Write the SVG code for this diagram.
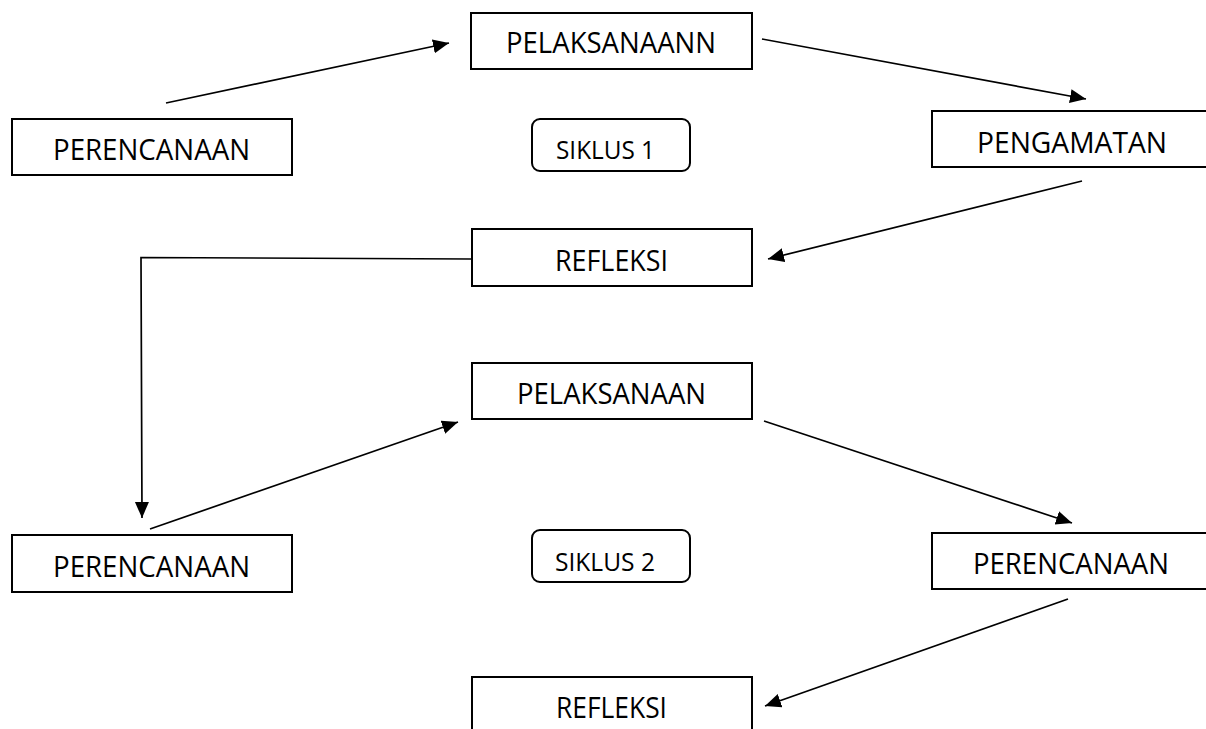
<svg xmlns="http://www.w3.org/2000/svg" width="1206" height="729" viewBox="0 0 1206 729">
<style>
.box{fill:#fff;stroke:#000;stroke-width:2}
.lbl{font-family:"Open Sans","Liberation Sans",sans-serif;font-size:29px;fill:#000}
.sm{font-family:"Open Sans","Liberation Sans",sans-serif;font-size:25px;fill:#000}
.ca{fill:none;stroke:#000;stroke-width:1.7;marker-end:url(#ah)}
</style>
<defs>
<marker id="ah" markerUnits="userSpaceOnUse" markerWidth="18" markerHeight="16" refX="16" refY="7" orient="auto">
<path d="M0,0 L16,7 L0,14 z" fill="#000"/>
</marker>
</defs>
<rect width="1206" height="729" fill="#fff"/>
<g id="connectors">
<line class="ca" x1="166" y1="103" x2="449" y2="43"/>
<line class="ca" x1="762" y1="39" x2="1086" y2="99"/>
<line class="ca" x1="1082" y1="181" x2="768" y2="259"/>
<polyline class="ca" points="471,259 141,257.5 142,518"/>
<line class="ca" x1="150" y1="529" x2="458" y2="422"/>
<line class="ca" x1="764" y1="421" x2="1072" y2="523"/>
<line class="ca" x1="1068" y1="599" x2="765" y2="706"/>
</g>
<g id="perencanaan1">
<rect class="box" x="12" y="119" width="280" height="56"/>
<text class="lbl" x="53" y="160" textLength="197" lengthAdjust="spacingAndGlyphs">PERENCANAAN</text>
</g>
<g id="pelaksanaan1">
<rect class="box" x="471" y="13" width="281" height="56"/>
<text class="lbl" x="506" y="53" textLength="210" lengthAdjust="spacingAndGlyphs">PELAKSANAANN</text>
</g>
<g id="pengamatan">
<rect class="box" x="932" y="111" width="290" height="56"/>
<text class="lbl" x="977" y="153" textLength="190" lengthAdjust="spacingAndGlyphs">PENGAMATAN</text>
</g>
<g id="siklus1">
<rect class="box" x="532" y="119" width="158" height="52" rx="8"/>
<text class="sm" x="556" y="159" textLength="99" lengthAdjust="spacingAndGlyphs">SIKLUS 1</text>
</g>
<g id="refleksi1">
<rect class="box" x="472" y="229" width="280" height="57"/>
<text class="lbl" x="555" y="271" textLength="113" lengthAdjust="spacingAndGlyphs">REFLEKSI</text>
</g>
<g id="pelaksanaan2">
<rect class="box" x="472" y="363" width="280" height="56"/>
<text class="lbl" x="517" y="404" textLength="189" lengthAdjust="spacingAndGlyphs">PELAKSANAAN</text>
</g>
<g id="perencanaan2">
<rect class="box" x="12" y="535" width="280" height="57"/>
<text class="lbl" x="53" y="577" textLength="197" lengthAdjust="spacingAndGlyphs">PERENCANAAN</text>
</g>
<g id="siklus2">
<rect class="box" x="532" y="530" width="158" height="52" rx="8"/>
<text class="sm" x="555" y="571" textLength="100" lengthAdjust="spacingAndGlyphs">SIKLUS 2</text>
</g>
<g id="perencanaan3">
<rect class="box" x="932" y="533" width="290" height="56"/>
<text class="lbl" x="973" y="574" textLength="196" lengthAdjust="spacingAndGlyphs">PERENCANAAN</text>
</g>
<g id="refleksi2">
<rect class="box" x="472" y="677" width="280" height="70"/>
<text class="lbl" x="556" y="718" textLength="111" lengthAdjust="spacingAndGlyphs">REFLEKSI</text>
</g>
</svg>
